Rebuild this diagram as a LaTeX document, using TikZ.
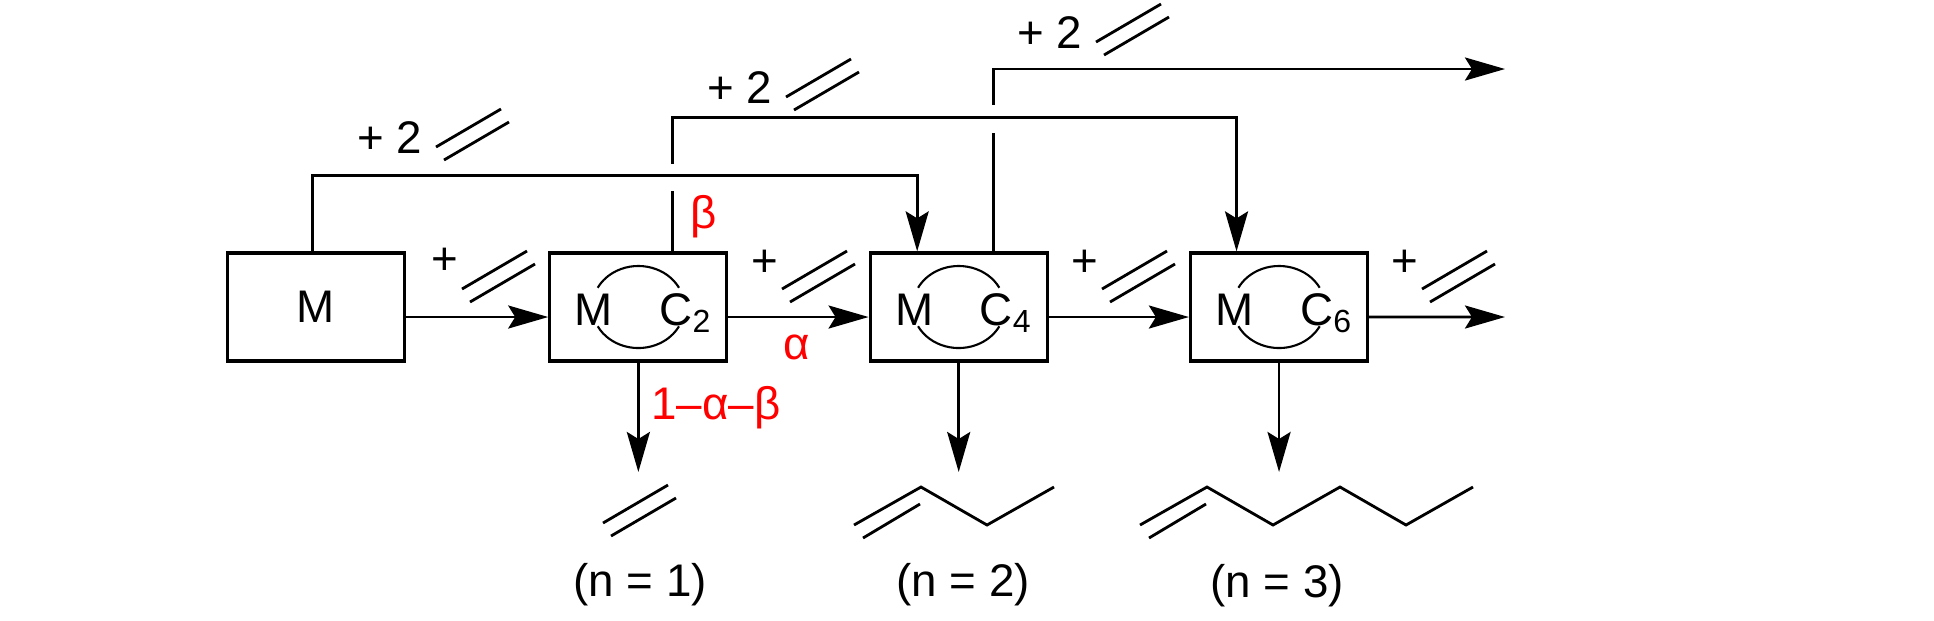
\documentclass[tikz,border=0pt]{standalone}
\usepackage{fontspec}
\setmainfont{Liberation Sans}
\usetikzlibrary{arrows.meta,positioning}
\tikzset{
  box/.style={draw, line width=0.9pt, minimum width=1.77cm, minimum height=1.08cm, inner sep=0pt},
  arr/.style={line width=0.8pt, -{Stealth[length=0.4cm,width=0.23cm,inset=0.07cm]}},
  bond/.style={line width=0.8pt},
  gap/.style={draw=white, line width=3pt},
  ene/.pic={\draw[bond] (0,0) -- (65,-38) (8,13) -- (73,-25);}
}

\begin{document}
\begin{tikzpicture}[x=0.01cm,y=-0.01cm,font=\fontsize{13}{15}\selectfont]
  \useasboundingbox (0,0) rectangle (1934,620);
% reactors
  \node[box] (m) at (316,307) {M};
  \node[box, right=1.42cm of m] (mc2) {};
  \node[box, right=1.4cm of mc2] (mc4) {};
  \node[box, right=1.4cm of mc4] (mc6) {};
  \node[anchor=base] (mc2m) at ([xshift=-0.445cm,yshift=-0.18cm]mc2.center) {M};
  \node[anchor=base] (mc2c) at ([xshift=0.475cm,yshift=-0.18cm]mc2.center) {C\textsubscript{2}};
  \node[anchor=base] (mc4m) at ([xshift=-0.445cm,yshift=-0.18cm]mc4.center) {M};
  \node[anchor=base] (mc4c) at ([xshift=0.475cm,yshift=-0.18cm]mc4.center) {C\textsubscript{4}};
  \node[anchor=base] (mc6m) at ([xshift=-0.445cm,yshift=-0.18cm]mc6.center) {M};
  \node[anchor=base] (mc6c) at ([xshift=0.475cm,yshift=-0.18cm]mc6.center) {C\textsubscript{6}};
  \draw[line width=0.6pt] (mc2.center) +(28:0.46cm and 0.41cm) arc(28:152:0.46cm and 0.41cm);
  \draw[line width=0.6pt] (mc2.center) +(208:0.46cm and 0.41cm) arc(208:332:0.46cm and 0.41cm);
  \draw[line width=0.6pt] (mc4.center) +(28:0.46cm and 0.41cm) arc(28:152:0.46cm and 0.41cm);
  \draw[line width=0.6pt] (mc4.center) +(208:0.46cm and 0.41cm) arc(208:332:0.46cm and 0.41cm);
  \draw[line width=0.6pt] (mc6.center) +(28:0.46cm and 0.41cm) arc(28:152:0.46cm and 0.41cm);
  \draw[line width=0.6pt] (mc6.center) +(208:0.46cm and 0.41cm) arc(208:332:0.46cm and 0.41cm);
% chain growth
  \coordinate (out) at (1505,317);
  \draw[arr] ([yshift=-0.1cm]m.east) -- ([yshift=-0.1cm]mc2.west);
  \draw[arr] ([yshift=-0.1cm]mc2.east) -- ([yshift=-0.1cm]mc4.west);
  \draw[arr] ([yshift=-0.1cm]mc4.east) -- ([yshift=-0.1cm]mc6.west);
  \draw[arr] ([yshift=-0.1cm]mc6.east) -- (out);
  \node (add1) at (445,261) {+};
  \pic at (462,289) {ene};
  \node (add2) at (765,263) {+};
  \pic at (782,289) {ene};
  \node (add3) at (1085,263) {+};
  \pic at (1102,289) {ene};
  \node (add4) at (1405,263) {+};
  \pic at (1422,289) {ene};
  \node[text=red] (alpha) at (797,347) {α};
  \node[text=red] (beta) at (704,217) {β};
  \node[text=red] (loss) at (716,408) {1--α--β};
% double insertion loops
  \coordinate (top3) at (1505,69);
  \draw[arr] ([xshift=0.345cm]mc4.north) |- (top3);
  \draw[gap] (993,105) -- (993,133);
  \draw[arr] ([xshift=0.345cm]mc2.north) -- ++(0,-134) -| ([xshift=-0.425cm]mc6.north);
  \draw[gap] (673,164) -- (673,191);
  \draw[arr] ([xshift=-0.035cm]m.north) -- ++(0,-76) -| ([xshift=-0.415cm]mc4.north);
  \node (two1) at (390,138) {+ 2};
  \pic at (436,147) {ene};
  \node (two2) at (740,88) {+ 2};
  \pic at (786,97) {ene};
  \node (two3) at (1050,33) {+ 2};
  \pic at (1096,42) {ene};
% released olefins
  \coordinate (p1) at (mc2.south |- 0,472);
  \coordinate (p2) at (mc4.south |- 0,472);
  \coordinate (p3) at (mc6.south |- 0,472);
  \draw[arr] (mc2.south) -- (p1);
  \draw[arr] (mc4.south) -- (p2);
  \draw[arr] (mc6.south) -- (p3);
  \pic at (603,523) {ene};
  \draw[bond] (854,525) -- (921,487) -- (987,525) -- (1054,487) (863,538) -- (920,504);
  \draw[bond] (1140,525) -- (1207,487) -- (1273,525) -- (1340,487) -- (1406,525) -- (1473,487) (1149,538) -- (1206,504);
  \node (n1) at (640,585) {(n = 1)};
  \node (n2) at (963,585) {(n = 2)};
  \node (n3) at (1277,586) {(n = 3)};
\end{tikzpicture}
\end{document}
